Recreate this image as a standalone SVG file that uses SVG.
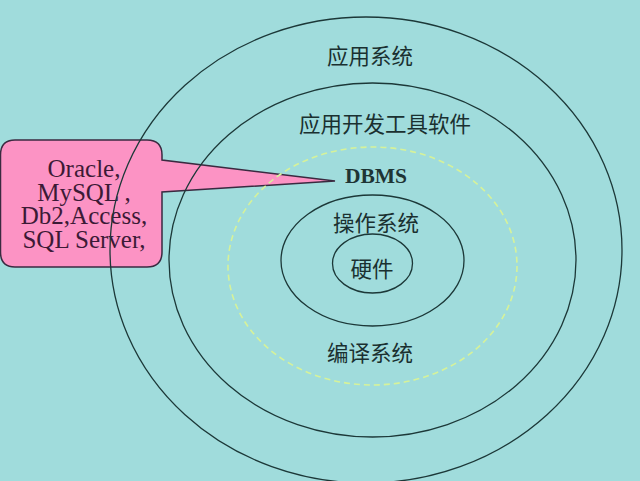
<svg xmlns="http://www.w3.org/2000/svg" width="640" height="481" viewBox="0 0 640 481">
<defs>
<style>
.ring{fill:none;stroke:#1c3838;stroke-width:1.3}
.dash{fill:none;stroke:#d6f29a;stroke-width:1.6;stroke-dasharray:6 4}
.cjk{font-family:"Noto Sans CJK SC","Noto Sans",sans-serif;font-size:21.5px;fill:#1a3030;text-anchor:middle}
.db{font-family:"Liberation Serif","Times New Roman",serif;font-size:21.5px;font-weight:bold;fill:#1e3434;text-anchor:middle}
.co{font-family:"Liberation Serif","Times New Roman",serif;font-size:25px;fill:#3c1a36;text-anchor:middle}
</style>
</defs>
<rect x="0" y="0" width="640" height="481" fill="#a0dcdc"/>
<g id="callout">
<path d="M15,140 H147 Q162,140 162,155 V160 L335,181 L162,192 V252 Q162,267 147,267 H15 Q0.5,267 0.5,252 V155 Q0.5,140 15,140 Z" fill="#fc93c4" stroke="#3a2a40" stroke-width="1.5"/>
<text class="co" x="84" y="177">Oracle,</text>
<text class="co" x="84" y="200.5">MySQL ,</text>
<text class="co" x="84" y="224">Db2,Access,</text>
<text class="co" x="84" y="247.5">SQL Server,</text>
</g>
<g id="connectors"></g>
<g id="app-system">
<ellipse class="ring" cx="366" cy="250" rx="256" ry="233"/>
<text class="cjk" x="370" y="64">应用系统</text>
</g>
<g id="dev-tools">
<ellipse class="ring" cx="372.5" cy="260" rx="203.5" ry="177"/>
<text class="cjk" x="385" y="132">应用开发工具软件</text>
</g>
<g id="dbms">
<ellipse class="dash" cx="372.5" cy="266" rx="144.5" ry="119"/>
<text class="db" x="376" y="183">DBMS</text>
<text class="cjk" x="370" y="361">编译系统</text>
</g>
<g id="os">
<ellipse class="ring" cx="372.5" cy="260.5" rx="91.5" ry="65.5"/>
<text class="cjk" x="376" y="231">操作系统</text>
</g>
<g id="hardware">
<ellipse class="ring" cx="372.5" cy="263.5" rx="40" ry="29.5"/>
<text class="cjk" x="372" y="277">硬件</text>
</g>
</svg>
